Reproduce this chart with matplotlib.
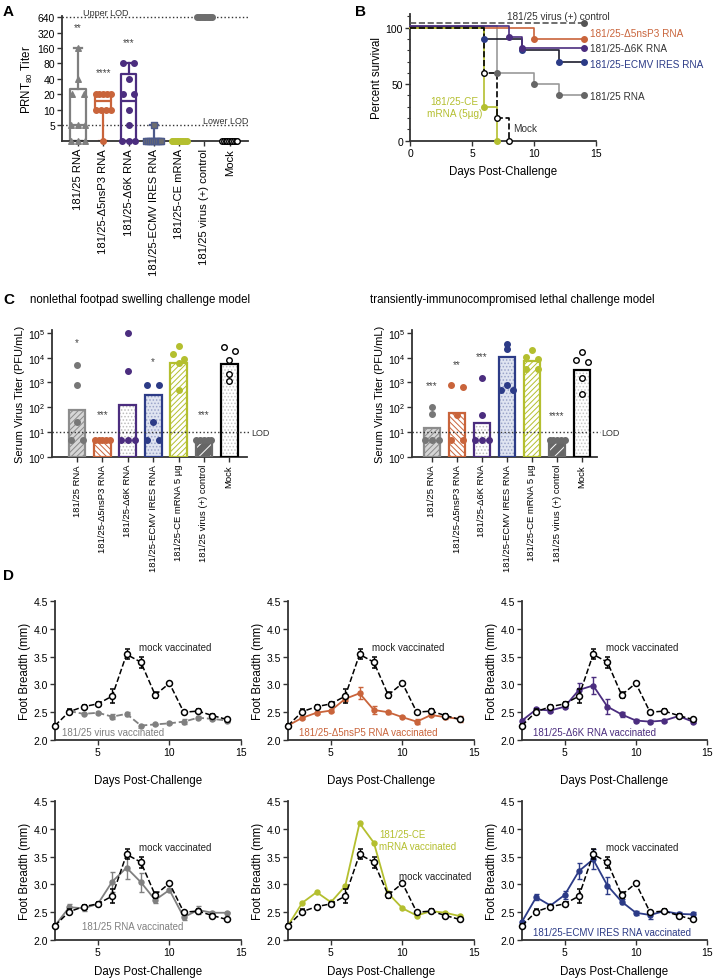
import numpy as np
import matplotlib
matplotlib.use('Agg')
import matplotlib.pyplot as plt
from matplotlib.ticker import NullLocator, MultipleLocator, FixedLocator, FormatStrFormatter

plt.rcParams['font.family'] = ['Liberation Sans', 'DejaVu Sans']
plt.rcParams['mathtext.fontset'] = 'custom'
plt.rcParams['mathtext.rm'] = 'Liberation Sans'
plt.rcParams['mathtext.it'] = 'Liberation Sans:italic'
plt.rcParams['hatch.linewidth'] = 0.7

GRAY = '#7f7f7f'
DGRAY = '#5e5e5e'
ORANGE = '#c9643b'
PURPLE = '#4b2d7f'
NAVY = '#2c3b87'
YGREEN = '#b4bf2f'
AXC = '#333333'

## ---------------- data ----------------
# A: PRNT80 titers, 0 = below lower LOD
a_groups = ['181/25 RNA', '181/25-Δ5nsP3 RNA', '181/25-Δ6K RNA', '181/25-ECMV IRES RNA',
            '181/25-CE mRNA', '181/25 virus (+) control', 'Mock']
a_titers = [
    [160, 40, 20, 20, 5, 5, 5, 0, 0, 0],
    [20, 20, 20, 20, 20, 10, 10, 10, 10, 0],
    [80, 80, 40, 20, 20, 10, 5, 0, 0, 0],
    [5, 0, 0, 0, 0, 0, 0, 0, 0, 0],
    [0, 0, 0, 0, 0, 0, 0, 0, 0, 0],
    [640, 640, 640, 640, 640, 640, 640, 640, 640, 640],
    [0, 0, 0, 0, 0, 0, 0, 0, 0, 0],
]
a_q1 = [0, 10, 0, 0, 0, 640, 0]
a_med = [5, 15, 15, 0, 0, 640, 0]
a_q3 = [25, 20, 50, 0, 0, 640, 0]
a_stars = ['**', '****', '***', '', '', '', '']
a_star_y = [415, 55, 211, 0, 0, 0, 0]

# B: survival (step curves)
b_virus_t, b_virus_s = [0, 14], [104, 104]
b_d5_t, b_d5_s = [0, 10, 14], [100, 90, 90]
b_d6k_t, b_d6k_s = [0, 8, 9, 14], [101.5, 92, 82, 82]
b_ecmv_t, b_ecmv_s = [0, 6, 9, 12, 14], [100.5, 90, 80, 70, 70]
b_rna_t, b_rna_s = [0, 7, 10, 12, 14], [101, 60, 50, 40, 40]
b_mock_t, b_mock_s = [0, 6, 7, 8], [100, 60, 20, 0]
b_ce_t, b_ce_s = [0, 6, 7], [100, 30, 0]

# C: serum virus titers
c_groups = ['181/25 RNA', '181/25-Δ5nsP3 RNA', '181/25-Δ6K RNA', '181/25-ECMV IRES RNA',
            '181/25-CE mRNA 5 µg', '181/25 virus (+) control', 'Mock']
c1_bars = [75, 5, 120, 300, 6000, 5, 5400]
c1_points = [
    [5000, 800, 25, 5, 5],
    [5, 5, 5, 5, 5],
    [100000, 3000, 5, 5, 5],
    [800, 800, 25, 5, 5],
    [29000, 13500, 9100, 5900, 500],
    [5, 5, 5, 5, 5],
    [26000, 18000, 7700, 2200, 1200],
]
c1_stars = ['*', '***', '', '*', '', '***', '']
c1_star_y = [42000, 55, 0, 7000, 0, 55, 0]
c2_bars = [15, 59, 24, 11000, 7200, 5, 3100]
c2_points = [
    [100, 55, 5, 5, 5],
    [800, 650, 50, 5, 5],
    [1500, 50, 5, 5, 5],
    [35000, 22000, 800, 500, 500],
    [21000, 11000, 8500, 3500, 3500],
    [5, 5, 5, 5, 5],
    [16600, 7800, 7000, 1500, 350],
]
c2_stars = ['***', '**', '***', '', '', '****', '']
c2_star_y = [800, 5600, 11500, 0, 0, 48, 0]

# D: foot breadth (mm)
days = [2, 3, 4, 5, 6, 7, 8, 9, 10, 11, 12, 13, 14]
mock_fb = [2.26, 2.51, 2.60, 2.65, 2.79, 3.54, 3.40, 2.81, 3.02, 2.50, 2.52, 2.44, 2.37]
mock_sem = [0.02, 0.05, 0.03, 0.03, 0.12, 0.09, 0.10, 0.06, 0.03, 0.03, 0.03, 0.03, 0.03]
virus_days = [3, 4, 5, 6, 7, 8, 9, 10, 11, 12, 13, 14]
virus_fb = [2.52, 2.47, 2.49, 2.42, 2.47, 2.26, 2.28, 2.30, 2.33, 2.40, 2.38, 2.35]
virus_sem = [0.03, 0.01, 0.01, 0.05, 0.03, 0.01, 0.01, 0.02, 0.05, 0.03, 0.02, 0.02]
d5_fb = [2.26, 2.40, 2.49, 2.53, 2.74, 2.84, 2.54, 2.50, 2.41, 2.33, 2.45, 2.41, 2.38]
d5_sem = [0.0, 0.02, 0.02, 0.02, 0.03, 0.11, 0.08, 0.03, 0.02, 0.05, 0.02, 0.04, 0.05]
d6k_fb = [2.35, 2.55, 2.53, 2.60, 2.90, 2.98, 2.60, 2.46, 2.35, 2.33, 2.35, 2.43, 2.33]
d6k_sem = [0.02, 0.03, 0.03, 0.03, 0.12, 0.16, 0.14, 0.04, 0.03, 0.03, 0.02, 0.02, 0.02]
rna_fb = [2.26, 2.59, 2.57, 2.65, 3.05, 3.30, 3.04, 2.72, 2.90, 2.41, 2.54, 2.49, 2.49]
rna_sem = [0.0, 0.06, 0.05, 0.01, 0.18, 0.21, 0.17, 0.05, 0.02, 0.05, 0.07, 0.02, 0.01]
ce_fb = [2.26, 2.67, 2.86, 2.68, 2.97, 4.10, 3.75, 2.84, 2.57, 2.44, 2.52, 2.49, 2.43]
ecmv_fb = [2.33, 2.77, 2.62, 2.81, 3.24, 3.45, 2.98, 2.69, 2.49, 2.45, 2.52, 2.47, 2.46]
ecmv_sem = [0.02, 0.05, 0.02, 0.07, 0.14, 0.18, 0.16, 0.05, 0.04, 0.07, 0.02, 0.03, 0.05]

## ---------------- figure ----------------
W, H = 715, 979
fig = plt.figure(figsize=(W / 100, H / 100), dpi=100)


def add_ax(l, t, r, b):
    return fig.add_axes([l / W, 1 - b / H, (r - l) / W, (b - t) / H])


def style(ax):
    for s in ['top', 'right']:
        ax.spines[s].set_visible(False)
    for s in ['left', 'bottom']:
        ax.spines[s].set_color(AXC)
        ax.spines[s].set_linewidth(1.3)
    ax.tick_params(width=1.0, length=3.5, color=AXC, labelsize=7.5, pad=1.5)
    ax.tick_params(which='minor', width=0.8, length=2, color=AXC)


def spread(ax, x0, vals, thresh=4.5):
    # points that sit within a few pixels of each other get spread sideways
    vals = sorted(vals, reverse=True)
    ys = [ax.transData.transform((0, v))[1] for v in vals]
    groups = []
    for v, y in zip(vals, ys):
        if groups and abs(groups[-1][0][1] - y) < thresh:
            groups[-1].append((v, y))
        else:
            groups.append([(v, y)])
    xs, out = [], []
    for g in groups:
        n = len(g)
        if n == 1:
            step = 0
        elif n == 2:
            step = 0.45
        elif n == 3:
            step = 0.27
        else:
            step = 0.6 / (n - 1)
        for i, (v, y) in enumerate(g):
            xs.append(x0 + (i - (n - 1) / 2) * step)
            out.append(v)
    return xs, out


def panel_label(x, y, s):
    fig.text(x / W, 1 - y / H, s, fontsize=11, fontweight='bold', va='center', ha='left')


## A
A_FLOOR = 2.45
axA = add_ax(62, 16.7, 248, 142)
style(axA)
axA.set_yscale('log', base=2)

fl = lambda v: v if v > 0 else A_FLOOR
stats = []
for i in range(7):
    vals = [fl(v) for v in a_titers[i]]
    stats.append(dict(q1=fl(a_q1[i]), med=fl(a_med[i]), q3=fl(a_q3[i]),
                      whislo=min(vals), whishi=max(vals), fliers=[]))
a_cols = [GRAY, ORANGE, PURPLE, '#4d5a8a', YGREEN, GRAY, 'black']
bp = axA.bxp(stats, positions=range(7), widths=0.62, showfliers=False, manage_ticks=False)
for i in range(7):
    c = a_cols[i]
    bp['boxes'][i].set(color=c, linewidth=1.6)
    bp['medians'][i].set(color=c, linewidth=1.6)
    for k in (2 * i, 2 * i + 1):
        bp['whiskers'][k].set(color=c, linewidth=1.6)
        bp['caps'][k].set(color=c, linewidth=1.6)
    for art in (bp['boxes'][i], bp['medians'][i]):
        art.set_clip_on(False)

axA.set_ylim(A_FLOOR, 686)
axA.set_xlim(-0.63, 6.72)
yt = [5, 10, 20, 40, 80, 160, 320, 640]
axA.yaxis.set_major_locator(FixedLocator(yt))
axA.yaxis.set_major_formatter(FormatStrFormatter('%d'))
axA.yaxis.set_minor_locator(NullLocator())
axA.set_xticks(range(7))
axA.set_xticklabels(a_groups, rotation=90, fontsize=8.1)
axA.set_ylabel('PRNT$_{80}$ Titer', fontsize=8.3, labelpad=2)

a_mk = ['^', 'o', 'o', 's', 'o', 'o', 'o']
a_face = [GRAY, ORANGE, PURPLE, '#6e6e6e', YGREEN, '#6e6e6e', 'white']
a_edge = [GRAY, ORANGE, PURPLE, '#4d5a8a', YGREEN, '#6e6e6e', 'black']
for i in range(7):
    xs, vs = spread(axA, i, [fl(v) for v in a_titers[i]])
    axA.scatter(xs, vs, marker=a_mk[i], s=16, facecolor=a_face[i], edgecolor=a_edge[i],
                linewidth=1.0, zorder=4, clip_on=False)
    if a_stars[i]:
        axA.text(i, a_star_y[i], a_stars[i], ha='center', va='center', fontsize=7, color='#444')
axA.axhline(640, ls=':', color=AXC, lw=1.0, zorder=1)
axA.axhline(5, ls=':', color=AXC, lw=1.0, zorder=1)
axA.text(0.2, 640 * 2 ** 0.28, 'Upper LOD', fontsize=6.5, va='center', ha='left', color='#333')
axA.text(6.72, 5 * 2 ** 0.3, 'Lower LOD', fontsize=6.5, va='center', ha='right', color='#333')
panel_label(3, 12, 'A')

## B
axB = add_ax(410, 15, 596, 141.7)
style(axB)
axB.set_xlim(0, 15)
axB.set_ylim(0, 112)
axB.set_xticks([0, 5, 10, 15])
axB.set_yticks([0, 50, 100])
axB.yaxis.set_minor_locator(MultipleLocator(10))
axB.set_xlabel('Days Post-Challenge', fontsize=8.3, labelpad=5.5)
axB.set_ylabel('Percent survival', fontsize=8.3, labelpad=2)

curves = [
    (b_virus_t, b_virus_s, '#555555', '#555555', '--'),
    (b_rna_t, b_rna_s, '#999999', '#666666', '-'),
    (b_d5_t, b_d5_s, ORANGE, ORANGE, '-'),
    (b_ecmv_t, b_ecmv_s, '#1e1e2e', NAVY, '-'),
    (b_d6k_t, b_d6k_s, PURPLE, PURPLE, '-'),
    (b_ce_t, b_ce_s, YGREEN, YGREEN, '-'),
    (b_mock_t, b_mock_s, 'black', 'black', '--'),
]
for t, s, lc, mc, ls in curves:
    axB.step(t, s, where='post', color=lc, ls=ls, lw=1.2, clip_on=False, zorder=3)
    face = 'white' if lc == 'black' else mc
    axB.scatter(t[1:], s[1:], s=16, facecolor=face, edgecolor=mc, linewidth=1.0,
                zorder=4, clip_on=False)
axB.text(7.8, 110.5, '181/25 virus (+) control', fontsize=7.2, va='center', color='#333')
axB.text(14.5, 95.6, '181/25-Δ5nsP3 RNA', fontsize=7.2, va='center', color=ORANGE)
axB.text(14.5, 82.3, '181/25-Δ6K RNA', fontsize=7.2, va='center', color='#333')
axB.text(14.5, 68.0, '181/25-ECMV IRES RNA', fontsize=7.2, va='center', color=NAVY)
axB.text(14.5, 39.6, '181/25 RNA', fontsize=7.2, va='center', color='#333')
axB.text(3.6, 30, '181/25-CE\nmRNA (5µg)', fontsize=7.2, va='center', ha='center',
         color=YGREEN, linespacing=1.2)
axB.text(8.3, 11.3, 'Mock', fontsize=7.2, va='center', color='#333')
panel_label(355, 12, 'B')

## C
c_face = ['#d6d6d6', 'white', 'white', '#dfe4f1', 'white', '#666666', 'white']
c_hatch = ['//////', '\\\\\\\\\\\\', '.....', '.....', '//////', '///', '.....']
c_hcol = ['#8a8a8a', ORANGE, '#bdbdbd', '#9aa4c9', YGREEN, 'white', '#c4c4c4']
c_edge = ['#8c8c8c', ORANGE, PURPLE, NAVY, YGREEN, '#6b6b6b', 'black']
c_pface = ['#777777', ORANGE, PURPLE, NAVY, YGREEN, '#6b6b6b', 'white']
c_pedge = ['#777777', ORANGE, PURPLE, NAVY, YGREEN, '#6b6b6b', 'black']


def draw_c(ax, bars, points, stars, star_y, xlim):
    style(ax)
    ax.set_yscale('log')
    ax.set_ylim(1, 1.3e5)
    ax.set_xlim(*xlim)
    ax.set_yticks([1, 10, 100, 1e3, 1e4, 1e5])
    ax.set_yticklabels(['$10^{%d}$' % k for k in range(6)])
    ax.yaxis.set_minor_locator(NullLocator())
    ax.set_xticks(range(7))
    ax.set_xticklabels(c_groups, rotation=90, fontsize=6.8)
    ax.set_ylabel('Serum Virus Titer (PFU/mL)', fontsize=8, labelpad=2)
    x = np.arange(7)
    ax.bar(x, np.array(bars) - 1, bottom=1, width=0.66, color=c_face, linewidth=0, zorder=2)
    for i in range(7):
        ax.bar(x[i], bars[i] - 1, bottom=1, width=0.66, facecolor='none',
               edgecolor=c_hcol[i], hatch=c_hatch[i], linewidth=0, zorder=2)
    ax.bar(x, np.array(bars) - 1, bottom=1, width=0.66, facecolor='none',
           edgecolor=c_edge, linewidth=1.6, zorder=3)
    for i in range(7):
        xs, vs = spread(ax, i, points[i])
        ax.scatter(xs, vs, s=16, facecolor=c_pface[i], edgecolor=c_pedge[i],
                   linewidth=1.0, zorder=4, clip_on=False)
        if stars[i]:
            ax.text(i, star_y[i], stars[i], ha='center', va='center', fontsize=7, color='#444')
    ax.plot([xlim[0], xlim[1] + 0.1], [10, 10], ls=':', color=AXC, lw=1.0, zorder=5,
            clip_on=False)
    ax.text(xlim[1] + 0.15, 10, 'LOD', fontsize=6.5, va='center', ha='left', color='#333')


axC1 = add_ax(52, 331, 247, 458)
draw_c(axC1, c1_bars, c1_points, c1_stars, c1_star_y, (-0.99, 6.7))
axC2 = add_ax(412, 331, 597, 458)
draw_c(axC2, c2_bars, c2_points, c2_stars, c2_star_y, (-0.8, 6.6))
fig.text(30 / W, 1 - 300 / H, 'nonlethal footpad swelling challenge model', fontsize=8.3,
         va='center')
fig.text(370 / W, 1 - 300 / H, 'transiently-immunocompromised lethal challenge model',
         fontsize=8.3, va='center')
panel_label(3, 300, 'C')

## D
panel_label(3, 576, 'D')


def draw_d(ax, x, y, sem, col, ls, label, label_xy, mock_xy, xpad):
    style(ax)
    ax.set_xlim(2, 15)
    ax.set_ylim(2.0, 4.5)
    ax.set_xticks([5, 10, 15])
    ax.set_yticks([2.0, 2.5, 3.0, 3.5, 4.0, 4.5])
    ax.yaxis.set_major_formatter(FormatStrFormatter('%.1f'))
    ax.set_xlabel('Days Post-Challenge', fontsize=8.3, labelpad=xpad)
    ax.set_ylabel('Foot Breadth (mm)', fontsize=8.3, labelpad=2)
    ax.errorbar(days, mock_fb, yerr=mock_sem, color='black', ls='--', lw=1.1, marker='o',
                ms=4.3, mfc='white', mec='black', mew=1.1, capsize=1.8, elinewidth=1.0,
                zorder=4, clip_on=False)
    ax.errorbar(x, y, yerr=sem, color=col, ls=ls, lw=1.3, marker='o', ms=3.6, mfc=col,
                mec=col, capsize=1.8, elinewidth=1.0, zorder=3, clip_on=False)
    ax.text(mock_xy[0], mock_xy[1], 'mock vaccinated', fontsize=7, va='center', color='#222')
    ax.text(label_xy[0], label_xy[1], label, fontsize=7, va='center', color=col,
            linespacing=1.15)


r1t, r1b = 602, 741
r2t, r2b = 802, 941
cols = [(55, 241), (288, 474), (522, 707)]

ax = add_ax(cols[0][0], r1t, cols[0][1], r1b)
draw_d(ax, virus_days, virus_fb, virus_sem, '#808080', '--', '181/25 virus vaccinated',
       (2.5, 2.15), (7.87, 3.67), 12)
ax = add_ax(cols[1][0], r1t, cols[1][1], r1b)
draw_d(ax, days, d5_fb, d5_sem, ORANGE, '-', '181/25-Δ5nsP5 RNA vaccinated',
       (2.75, 2.15), (7.87, 3.67), 12)
ax = add_ax(cols[2][0], r1t, cols[2][1], r1b)
draw_d(ax, days, d6k_fb, d6k_sem, PURPLE, '-', '181/25-Δ6K RNA vaccinated',
       (2.75, 2.15), (7.87, 3.67), 12)
ax = add_ax(cols[0][0], r2t, cols[0][1], r2b)
draw_d(ax, days, rna_fb, rna_sem, '#808080', '-', '181/25 RNA vaccinated',
       (3.9, 2.25), (7.87, 3.67), 6)
ax = add_ax(cols[1][0], r2t, cols[1][1], r2b)
draw_d(ax, days, ce_fb, None, YGREEN, '-', '181/25-CE\nmRNA vaccinated',
       (8.36, 3.8), (9.76, 3.15), 6)
ax = add_ax(cols[2][0], r2t, cols[2][1], r2b)
draw_d(ax, days, ecmv_fb, ecmv_sem, NAVY, '-', '181/25-ECMV IRES RNA vaccinated',
       (2.75, 2.15), (7.87, 3.67), 6)

fig.savefig('out.png', dpi=100)
